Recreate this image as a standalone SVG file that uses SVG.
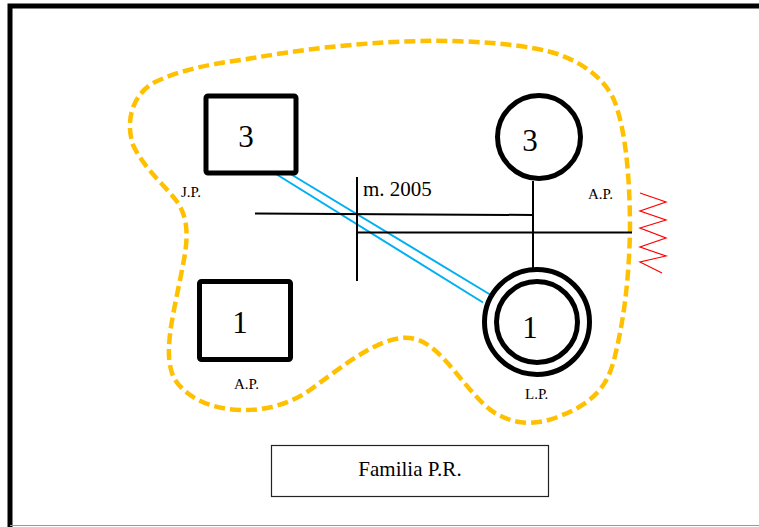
<svg xmlns="http://www.w3.org/2000/svg" width="759" height="527" viewBox="0 0 759 527">
<style>
.node{fill:#fff;stroke:#000;stroke-width:5}
.big{font-family:'Liberation Serif','Times New Roman',serif;font-size:31px;fill:#000;text-anchor:middle}
.small{font-family:'Liberation Serif','Times New Roman',serif;font-size:15px;fill:#000}
.label{font-family:'Liberation Serif','Times New Roman',serif;font-size:21px;fill:#000}
.line{stroke:#000;stroke-width:2;fill:none}
.blue{stroke:#00B0F0;stroke-width:2;fill:none}
</style>
<rect x="0" y="0" width="759" height="527" fill="#fff"/>
<path d="M10 527 V6 H765" fill="none" stroke="#000" stroke-width="5"/>
<line x1="10" y1="525.5" x2="759" y2="525.5" stroke="#999" stroke-width="1"/>
<path id="boundary" d="M153 83 C190 65 230 62 253 58 C300 50 350 43 420 41 C470 40 530 44 560 55 C585 64 605 80 614 100 C626 130 630 180 630 230 C629 280 624 320 614 360 C606 390 590 405 555 418 C535 425 515 425 495 413 C475 400 460 375 440 355 C420 335 405 335 385 342 C360 352 340 368 310 390 C290 404 265 411 240 410 C210 409 185 397 174 378 C163 355 172 320 180 280 C186 250 192 225 178 203 C165 185 145 170 133 145 C125 120 133 95 153 83 Z" fill="none" stroke="#FFC000" stroke-width="4.5" stroke-dasharray="11 5"/>
<g id="connectors">
<line class="blue" x1="276" y1="174" x2="483" y2="302.5"/>
<line class="blue" x1="290.5" y1="174" x2="490" y2="294.5"/>
<line class="line" x1="255" y1="213.5" x2="533" y2="215"/>
<line class="line" x1="357" y1="232.5" x2="632" y2="232.5"/>
<line class="line" x1="357" y1="177" x2="357" y2="281"/>
<line class="line" x1="533" y1="181" x2="533" y2="269"/>
<polyline points="640,193 666,202 640,211 666,220 640,228 666,238 640,247 666,256 640,262 662,273" fill="none" stroke="#FF0000" stroke-width="1.2"/>
<text class="label" x="363" y="196">m. 2005</text>
</g>
<g id="jp">
<rect class="node" x="206" y="96" width="90" height="77" rx="2"/>
<text class="big" x="246" y="147">3</text>
<text class="small" x="181" y="197">J.P.</text>
</g>
<g id="ap-mother">
<circle class="node" cx="539" cy="137" r="41.5"/>
<text class="big" x="530" y="151">3</text>
<text class="small" x="588" y="199">A.P.</text>
</g>
<g id="ap-son">
<rect class="node" x="199.5" y="281.5" width="91" height="78" rx="2"/>
<text class="big" x="240" y="333">1</text>
<text class="small" x="234" y="389">A.P.</text>
</g>
<g id="lp">
<circle class="node" cx="537" cy="322" r="52.5"/>
<circle class="node" cx="537" cy="322" r="40.5"/>
<text class="big" x="530" y="338">1</text>
<text class="small" x="525" y="399">L.P.</text>
</g>
<g id="title">
<rect x="271.5" y="445.5" width="277" height="51" fill="#fff" stroke="#222" stroke-width="1.2"/>
<text class="label" x="410" y="476" text-anchor="middle">Familia P.R.</text>
</g>
</svg>
